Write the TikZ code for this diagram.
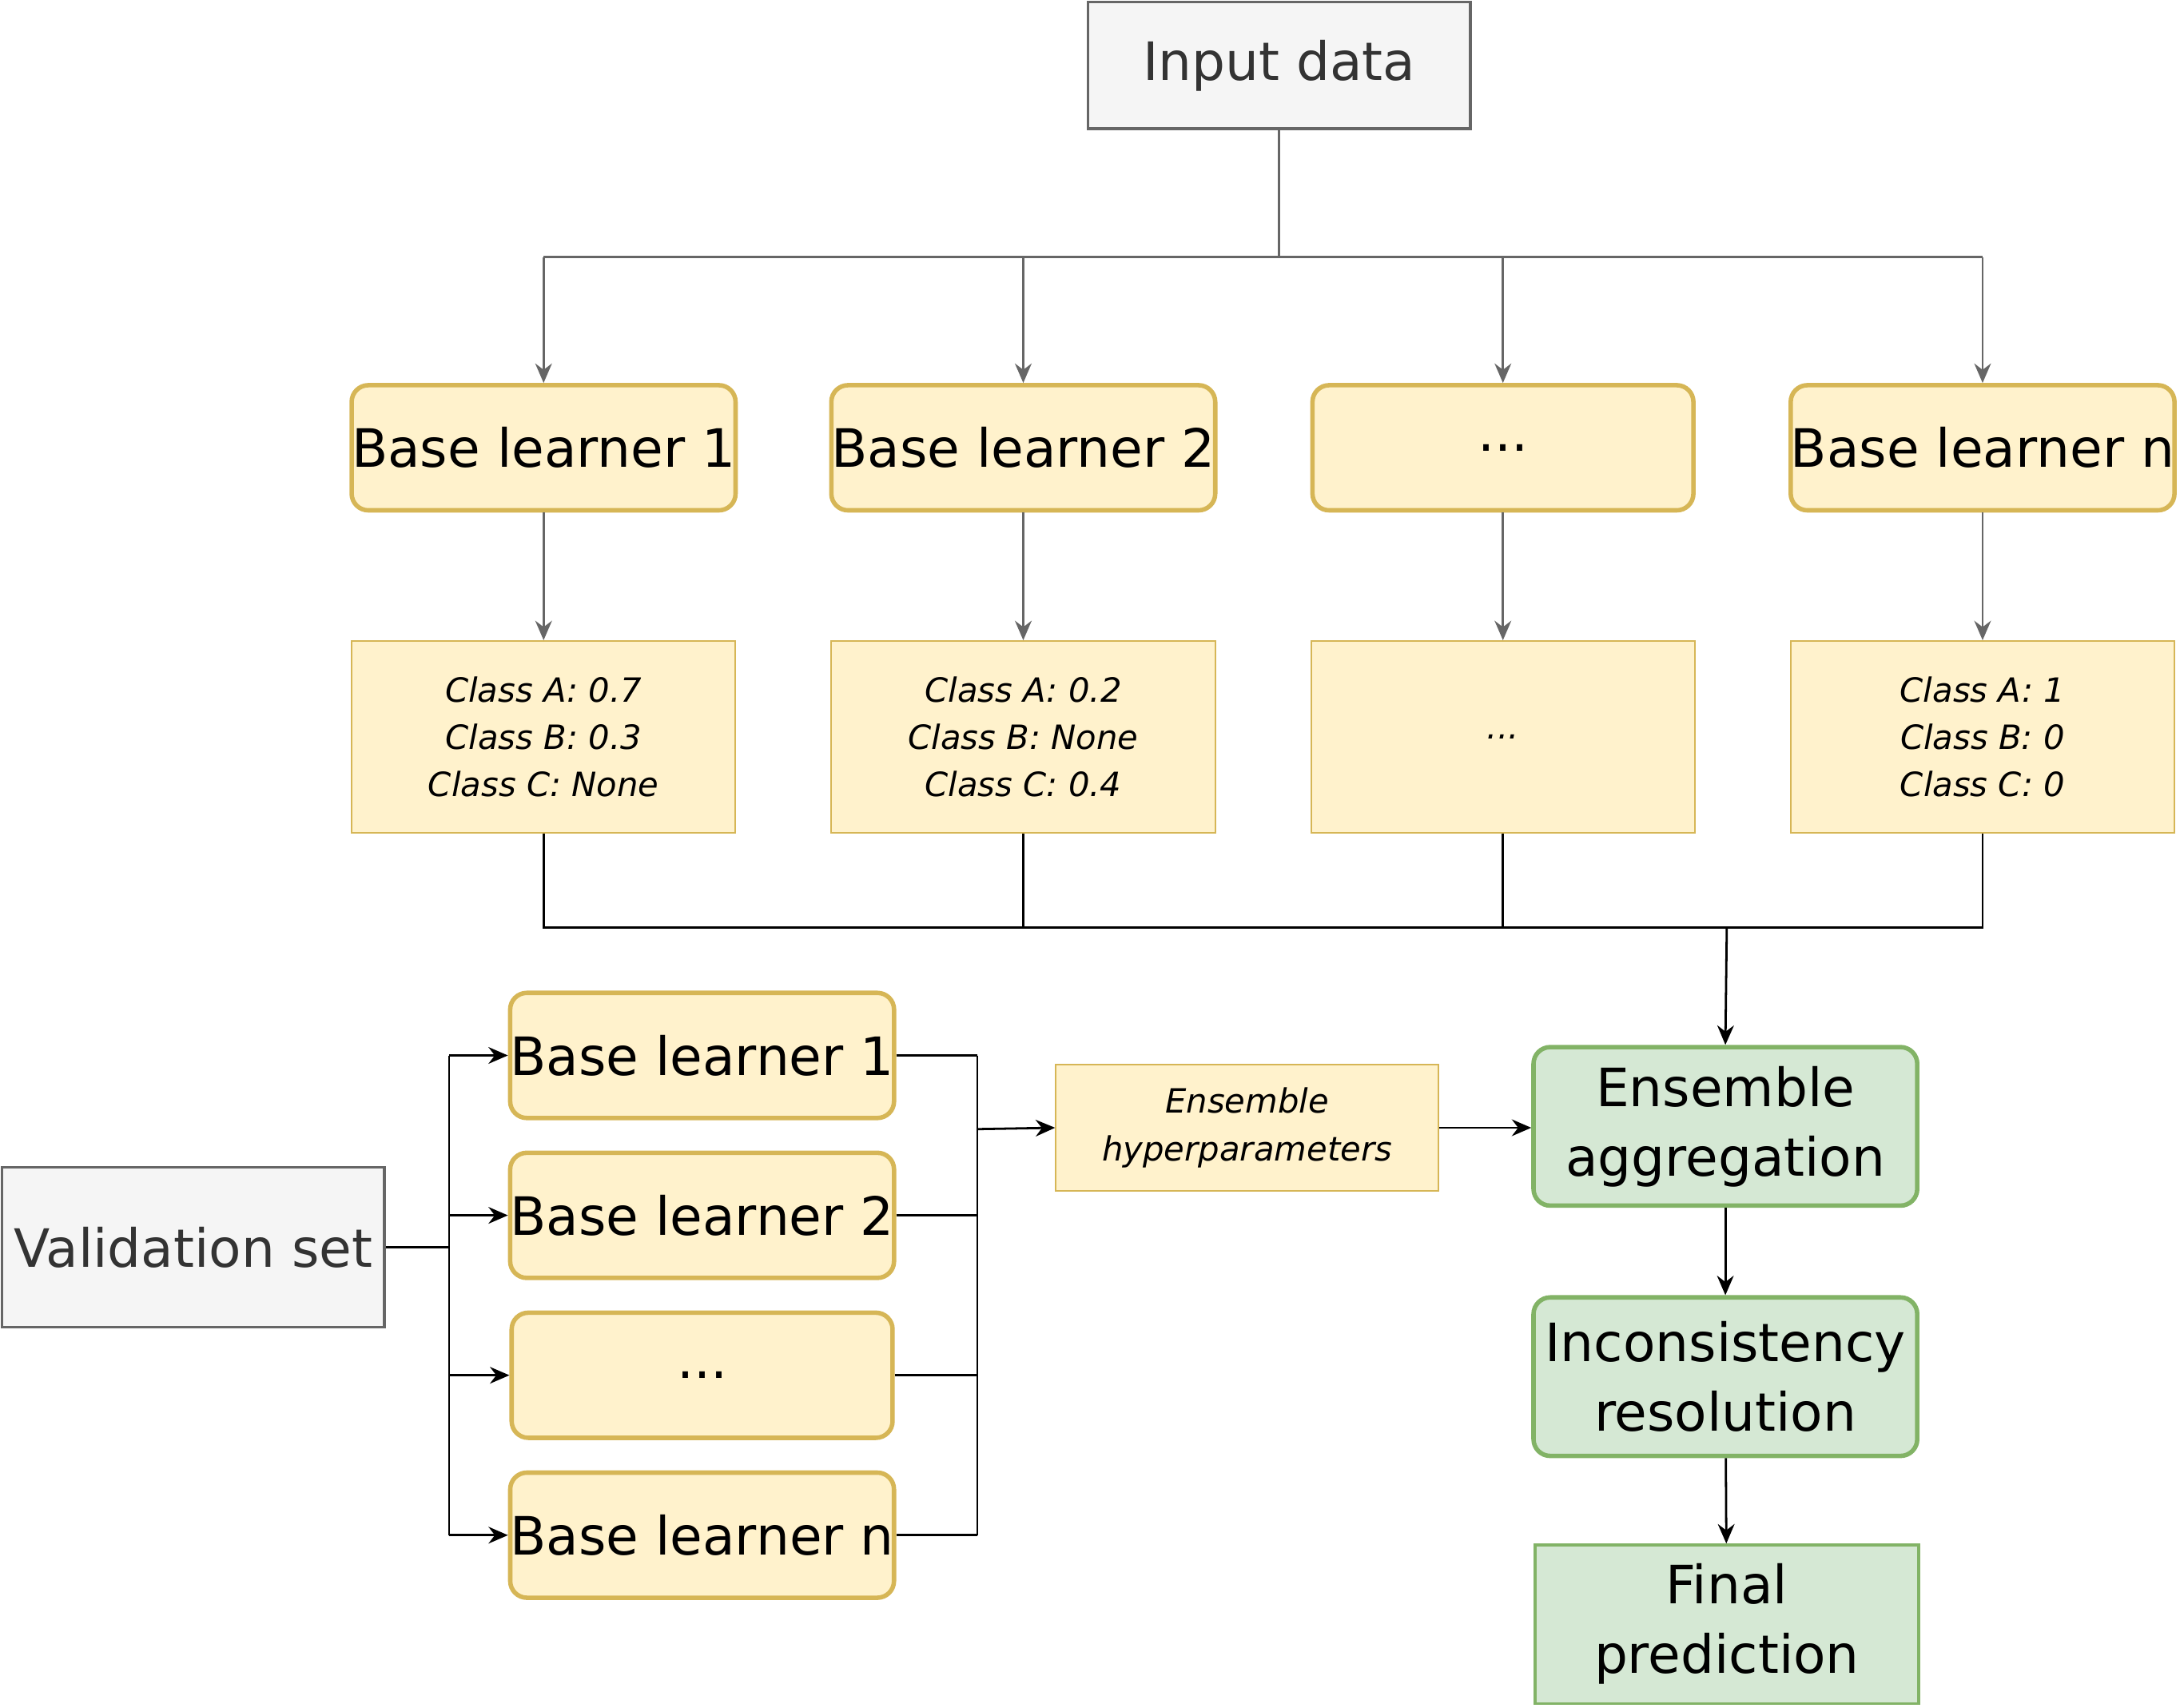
\documentclass[tikz,border=0pt]{standalone}
\usepackage{fontspec}
\setmainfont{DejaVu Sans}
\usetikzlibrary{arrows.meta}
\definecolor{gfill}{HTML}{F5F5F5}\definecolor{gline}{HTML}{666666}
\definecolor{yfill}{HTML}{FFF2CC}\definecolor{yline}{HTML}{D6B656}
\definecolor{efill}{HTML}{D5E8D4}\definecolor{eline}{HTML}{82B366}
\begin{document}
\begin{tikzpicture}[x=0.5pt,y=-0.5pt,
 greybox/.style={draw=gline,fill=gfill,line width=1pt,minimum width=137.5pt,minimum height=45.5pt,font=\fontsize{19}{22}\selectfont,text=black!80,inner sep=0pt},
 learner/.style={draw=yline,fill=yfill,line width=1.6pt,rounded corners=6pt,minimum width=137pt,minimum height=45pt,font=\fontsize{19}{22}\selectfont,inner sep=0pt},
 classbox/.style={draw=yline,fill=yfill,line width=0.6pt,minimum width=138pt,minimum height=69pt,font=\itshape\fontsize{12}{17}\selectfont,align=center,inner sep=0pt},
 green/.style={draw=eline,fill=efill,line width=1.6pt,rounded corners=6pt,minimum width=138pt,minimum height=57pt,font=\fontsize{19}{25}\selectfont,align=center,inner sep=0pt},
 ga/.style={draw=gline,line width=0.8pt,-{Stealth[length=7pt,width=6pt]}},
 gl/.style={draw=gline,line width=0.8pt},
 ba/.style={draw=black,line width=0.8pt,-{Stealth[length=7pt,width=6pt]}},
 bl/.style={draw=black,line width=0.8pt}]
\useasboundingbox (0,0) rectangle (1568,1228);
\node[greybox] (in) at (920,47) {Input data};
\node[learner] (t1) at (391,322) {Base learner 1};
\node[learner] (t2) at (736,322) {Base learner 2};
\node[learner] (t3) at (1081,322) {...};
\node[learner] (t4) at (1426,322) {Base learner n};
\node[classbox] (c1) at (391,530) {Class A: 0.7\\Class B: 0.3\\Class C: None};
\node[classbox] (c2) at (736,530) {Class A: 0.2\\Class B: None\\Class C: 0.4};
\node[classbox] (c3) at (1081,530) {...};
\node[classbox] (c4) at (1426,530) {Class A: 1\\Class B: 0\\Class C: 0};
\coordinate (bus) at (920,185);
\draw[gl] (in.south) -- (bus);
\foreach \i in {1,2,3,4}{
  \draw[ga] (bus -| t\i) -- (t\i.north);
  \draw[ga] (t\i.south) -- (c\i.north);
}
\draw[gl] (bus -| t1) -- (bus -| t4);
\coordinate (bot) at (1242,667);
\draw[bl] (c1.south) |- (bot -| c4) -- (c4.south);
\draw[bl] (c2.south) -- (bot -| c2);
\draw[bl] (c3.south) -- (bot -| c3);
\node[green] (ea) at (1241,810) {Ensemble\\aggregation};
\node[green] (ir) at (1241,990) {Inconsistency\\resolution};
\node[green,rounded corners=0pt,line width=1pt] (fp) at (1242,1168) {Final\\prediction};
\draw[ba] (bot) -- (ea.north);
\draw[ba] (ea) -- (ir);
\draw[ba] (ir) -- (fp);
\node[greybox,minimum height=57.5pt] (vs) at (139,897) {Validation set};
\node[learner] (l1) at (505,759) {Base learner 1};
\node[learner] (l2) at (505,874) {Base learner 2};
\node[learner] (l3) at (505,989) {...};
\node[learner] (l4) at (505,1104) {Base learner n};
\coordinate (lj) at (323,897);
\coordinate (rj) at (703,812);
\draw[bl] (vs.east) -- (lj);
\draw[bl] (lj |- l1) -- (lj |- l4);
\draw[bl] (rj |- l1) -- (rj |- l4);
\foreach \i in {1,2,3,4}{
  \draw[ba] (lj |- l\i) -- (l\i.west);
  \draw[bl] (l\i.east) -- (rj |- l\i);
}
\node[classbox,minimum height=45.5pt,minimum width=137.5pt] (hp) at (897,811) {Ensemble\\hyperparameters};
\draw[ba] (rj) -- (hp.west);
\draw[ba] (hp.east) -- (ea.west |- hp);
\end{tikzpicture}
\end{document}
